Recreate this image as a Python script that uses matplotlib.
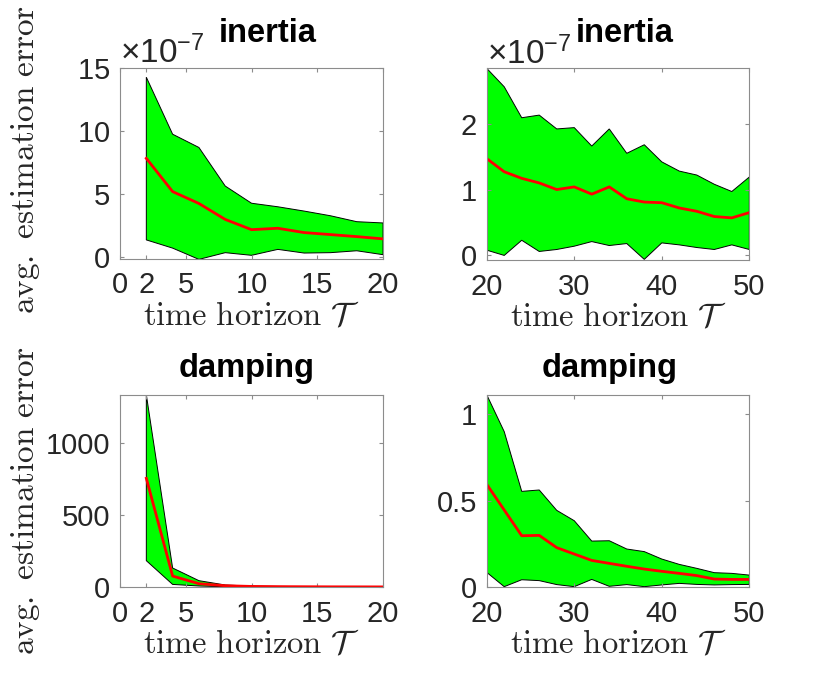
import numpy as np
import matplotlib
matplotlib.use("Agg")
import matplotlib.pyplot as plt

plt.rcParams['font.family'] = ['Liberation Sans', 'DejaVu Sans']
plt.rcParams['mathtext.fontset'] = 'custom'
plt.rcParams['mathtext.rm'] = 'Liberation Sans'
plt.rcParams['mathtext.it'] = 'Liberation Sans:italic'

# horizons
T_short = [2, 4, 6, 8, 10, 12, 14, 16, 18, 20]
T_long = [20, 22, 24, 26, 28, 30, 32, 34, 36, 38, 40, 42, 44, 46, 48, 50]

# inertia error (units of 1e-7)
inertia_short_mean = [7.83, 5.20, 4.26, 3.00, 2.19, 2.30, 1.96, 1.80, 1.64, 1.46]
inertia_short_lo = [1.38, 0.73, -0.16, 0.37, 0.16, 0.63, 0.34, 0.37, 0.52, 0.21]
inertia_short_hi = [14.25, 9.74, 8.69, 5.64, 4.28, 4.00, 3.66, 3.29, 2.82, 2.72]

inertia_long_mean = [1.47, 1.27, 1.17, 1.10, 1.00, 1.04, 0.93, 1.04, 0.86, 0.81, 0.80, 0.72, 0.67, 0.59, 0.57, 0.65]
inertia_long_lo = [0.08, 0.00, 0.23, 0.06, 0.09, 0.14, 0.21, 0.15, 0.18, -0.06, 0.19, 0.16, 0.12, 0.09, 0.16, 0.09]
inertia_long_hi = [2.84, 2.56, 2.09, 2.13, 1.92, 1.94, 1.66, 1.92, 1.55, 1.68, 1.42, 1.28, 1.22, 1.08, 0.97, 1.19]

# damping error
damping_short_mean = [755, 76, 23, 9, 4, 2.5, 1.8, 1.2, 1.0, 0.7]
damping_short_lo = [183, 18, 7, 2, 1, 0.6, 0.4, 0.3, 0.2, 0.1]
damping_short_hi = [1336, 132, 44, 14, 6, 4, 3, 2.2, 1.8, 1.4]

damping_long_mean = [0.595, 0.446, 0.297, 0.299, 0.228, 0.191, 0.154, 0.137, 0.120, 0.104, 0.091, 0.079, 0.066, 0.046, 0.044, 0.044]
damping_long_lo = [0.085, 0.002, 0.042, 0.037, 0.014, 0.002, 0.044, 0.004, 0.014, 0.002, 0.012, 0.021, 0.015, 0.012, 0.014, 0.015]
damping_long_hi = [1.114, 0.90, 0.554, 0.562, 0.444, 0.384, 0.266, 0.268, 0.22, 0.205, 0.162, 0.131, 0.108, 0.083, 0.079, 0.069]

SCALE = 1e-7
TICK_FS = 21
OFFSET_FS = 24
XLABEL_FS = 23.5
YLABEL_FS = 24
TITLE_FS = 23.5
GRAY = '#8c8c8c'
TXT = '#262626'

fig = plt.figure(figsize=(8.3, 6.91), dpi=100)

# [left, bottom, width, height] in figure fractions
positions = [
    [0.1446, 0.6252, 0.3169, 0.2768],
    [0.5864, 0.6237, 0.3164, 0.2774],
    [0.1446, 0.1505, 0.3169, 0.2783],
    [0.5864, 0.1505, 0.3164, 0.2783],
]

panels = [
    dict(x=T_short, lo=np.array(inertia_short_lo) * SCALE, hi=np.array(inertia_short_hi) * SCALE,
         mean=np.array(inertia_short_mean) * SCALE, title='inertia', tx=0.563, ty=1.136,
         xlim=(0, 20), xticks=[0, 2, 5, 10, 15, 20], ylim=(-0.13e-7, 15e-7),
         yticks=[0, 5e-7, 10e-7, 15e-7], sci=True, ylabel=True, ylab_y=0.52),
    dict(x=T_long, lo=np.array(inertia_long_lo) * SCALE, hi=np.array(inertia_long_hi) * SCALE,
         mean=np.array(inertia_long_mean) * SCALE, title='inertia', tx=0.527, ty=1.136,
         xlim=(20, 50), xticks=[20, 30, 40, 50], ylim=(-0.07e-7, 2.84e-7),
         yticks=[0, 1e-7, 2e-7], sci=True, ylabel=False),
    dict(x=T_short, lo=damping_short_lo, hi=damping_short_hi, mean=damping_short_mean,
         title='damping', tx=0.481, ty=1.094,
         xlim=(0, 20), xticks=[0, 2, 5, 10, 15, 20], ylim=(0, 1336),
         yticks=[0, 500, 1000], sci=False, ylabel=True, ylab_y=0.45),
    dict(x=T_long, lo=damping_long_lo, hi=damping_long_hi, mean=damping_long_mean,
         title='damping', tx=0.468, ty=1.094,
         xlim=(20, 50), xticks=[20, 30, 40, 50], ylim=(0, 1.114),
         yticks=[0, 0.5, 1], sci=False, ylabel=False),
]

for pos, p in zip(positions, panels):
    ax = fig.add_axes(pos)
    x = np.array(p['x'])
    lo = np.array(p['lo'])
    hi = np.array(p['hi'])
    # shaded band between min and max, black outline
    ax.fill(np.concatenate([x, x[::-1]]), np.concatenate([lo, hi[::-1]]),
            facecolor=(0, 1, 0), edgecolor='k', linewidth=0.7, zorder=1)
    ax.plot(x, p['mean'], color=(1, 0, 0), linewidth=2, zorder=2)

    ax.set_xlim(*p['xlim'])
    ax.set_ylim(*p['ylim'])
    ax.set_xticks(p['xticks'])
    ax.set_yticks(p['yticks'])
    if p['sci']:
        ax.ticklabel_format(axis='y', style='sci', scilimits=(-7, -7), useMathText=True)
    else:
        ax.set_yticklabels([f'{v:g}' for v in p['yticks']])

    ax.tick_params(direction='in', length=3, width=0.8, color=GRAY,
                   labelsize=TICK_FS, labelcolor=TXT, top=True, right=True)
    ax.tick_params(axis='x', pad=9)
    ax.tick_params(axis='y', pad=7)
    ax.yaxis.get_offset_text().set_fontsize(OFFSET_FS)
    ax.yaxis.get_offset_text().set_color(TXT)
    for s in ax.spines.values():
        s.set_color(GRAY)
        s.set_linewidth(0.8)

    ax.set_title(p['title'], fontsize=TITLE_FS, fontweight='bold', x=p['tx'], y=p['ty'], pad=0)
    ax.set_xlabel(r'$\mathrm{time\ horizon}\ \mathcal{T}$', fontsize=XLABEL_FS,
                  math_fontfamily='cm', color=TXT, labelpad=1)
    if p['ylabel']:
        ax.set_ylabel(r'$\mathrm{avg.\ estimation\ error}$', fontsize=YLABEL_FS,
                      math_fontfamily='cm', color=TXT)
        ax.yaxis.set_label_coords(-0.295, p['ylab_y'])

fig.savefig('out.png', dpi=100, facecolor='white')
